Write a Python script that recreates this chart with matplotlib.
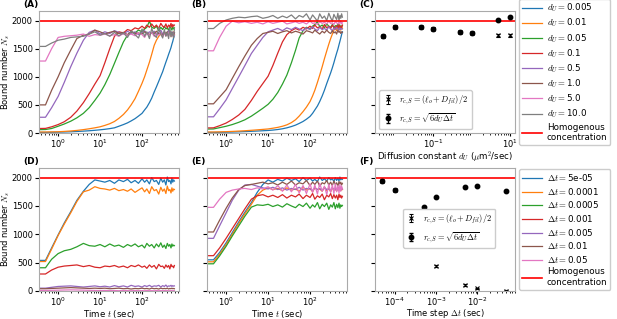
import matplotlib
matplotlib.use('Agg')
import matplotlib.pyplot as plt
import numpy as np

plt.rcParams['mathtext.fontset'] = 'cm'
plt.rcParams['font.size'] = 6.5

# time grid (sec) shared by all time series
t = [0.35, 0.5, 0.7, 1.0, 1.4, 2.0, 2.8, 4.0, 5.5, 7.5,
     10, 13, 17, 22, 28, 36, 45, 55, 68, 82,
     100, 115, 130, 150, 170, 195, 220, 250, 280, 310,
     340, 370, 400, 430, 460, 490, 515, 540, 565, 590]

dU = [0.005, 0.01, 0.05, 0.1, 0.5, 1.0, 5.0, 10.0]
dU_labels = ['0.005', '0.01', '0.05', '0.1', '0.5', '1.0', '5.0', '10.0']
dt = [5e-05, 1e-04, 5e-04, 1e-03, 5e-03, 1e-02, 5e-02]
dt_labels = ['5e-05', '0.0001', '0.0005', '0.001', '0.005', '0.01', '0.05']

N_homog = 2000

# (A) bound number vs time, r = (l_o + D_fil)/2
A_005 = [10,10,12,15,18,22,27,33,40,48, 57,66,78,92,120,150,180,215,255,300,
         350,410,460,540,620,730,820,920,1010,1090, 1180,1260,1330,1400,1460,1520,1580,1630,1690,1740]
A_01 = [18,18,20,22,28,36,46,60,75,92, 110,135,165,205,260,330,410,500,610,740,
        885,1000,1120,1260,1400,1560,1650,1720,1760,1740, 1790,1730,1780,1750,1800,1720,1770,1740,1800,1750]
A_05 = [60,62,80,120,160,210,270,350,450,580, 710,860,1040,1240,1430,1620,1740,1800,1780,1830,
        1800,1850,1880,1990,1880,1860,1900,1820,1880,1840, 1900,1850,1870,1820,1900,1860,1830,1890,1850,1870]
A_1 = [80,82,110,150,200,280,390,540,700,870, 1020,1250,1500,1720,1800,1780,1840,1820,1870,1850,
       1900,1860,1920,1880,1940,1880,1920,1860,1950,1900, 1880,1940,1870,1920,1890,1950,1880,1930,1900,1920]
A_5 = [280,280,450,650,900,1180,1420,1650,1790,1830, 1760,1800,1770,1820,1790,1760,1810,1770,1800,1750,
       1790,1820,1760,1800,1770,1810,1750,1790,1830,1760, 1800,1740,1790,1820,1770,1750,1800,1760,1790,1780]
A_10 = [500,500,760,1000,1250,1475,1680,1740,1760,1830, 1800,1760,1790,1810,1770,1790,1750,1800,1770,1780,
        1760,1800,1780,1750,1790,1770,1810,1760,1780,1740, 1790,1770,1800,1750,1780,1760,1790,1770,1750,1780]
A_50 = [1280,1280,1500,1700,1720,1730,1740,1760,1720,1750, 1740,1760,1730,1750,1720,1770,1740,1760,1730,1780,
        1750,1700,1770,1740,1790,1720,1760,1740,1780,1710, 1760,1750,1730,1790,1740,1760,1720,1770,1750,1740]
A_100 = [1540,1540,1600,1650,1670,1700,1710,1720,1760,1800, 1740,1770,1720,1790,1730,1780,1700,1820,1750,1690,
         1850,1720,1800,1680,1860,1740,1700,1880,1760,1690, 1840,1720,1790,1680,1870,1710,1800,1740,1690,1850]

# (B) bound number vs time, r = sqrt(6 dU dt)
B_005 = [10,10,12,14,17,21,25,30,35,40, 45,52,62,75,92,115,140,170,205,245,
         295,350,410,480,560,660,760,880,980,1070, 1160,1250,1340,1420,1490,1570,1630,1690,1750,1800]
B_01 = [18,18,20,24,28,34,40,48,56,64, 72,85,100,120,145,185,235,300,380,460,
        560,660,760,900,1030,1180,1320,1460,1580,1680, 1760,1830,1870,1820,1890,1840,1880,1830,1900,1860]
B_05 = [70,72,95,120,150,190,235,300,370,440, 510,600,720,870,1030,1250,1470,1690,1820,1880,
        1850,1900,1930,1980,1890,1920,1870,1940,1900,1880, 1930,1870,1910,1890,1940,1880,1920,1870,1900,1910]
B_1 = [90,92,130,177,240,320,420,580,740,880, 1010,1200,1420,1620,1750,1820,1860,1830,1880,1850,
       1900,1860,1920,1870,1890,1850,1930,1870,1900,1860, 1920,1880,1850,1910,1870,1930,1860,1900,1880,1920]
B_5 = [288,288,430,590,790,1000,1200,1415,1560,1700, 1800,1830,1860,1820,1870,1840,1880,1850,1820,1870,
       1840,1890,1850,1820,1880,1840,1860,1830,1890,1850, 1820,1870,1840,1880,1850,1830,1870,1840,1860,1850]
B_10 = [519,519,640,770,970,1180,1370,1560,1680,1770, 1790,1810,1770,1800,1820,1780,1810,1790,1760,1820,
        1800,1780,1830,1790,1760,1810,1780,1830,1790,1770, 1820,1780,1800,1760,1830,1790,1810,1770,1800,1790]
B_50 = [1462,1462,1700,1900,1990,1960,1980,1950,1970,1940, 1980,1950,1970,1990,1940,1960,1980,1950,1970,1940,
        1990,1950,1960,1930,1980,1950,1970,1940,1990,1950, 1960,1930,1980,1960,1940,1970,1950,1990,1940,1960]
B_100 = [1858,1858,1950,2010,2040,2060,2050,2070,2080,2040, 2060,2090,2040,2080,2050,2100,2030,2090,2060,2120,
         2010,2100,2050,1990,2120,2040,2080,2000,2130,2050, 1990,2110,2060,2020,2130,2000,2090,2040,2120,2060]

# (C) final bound number vs dU
C_ell = [1717, 1894, 1888, 1858, 1799, 1782, 1735, 1735]
C_ell_err = [20, 20, 20, 20, 20, 20, 22, 22]
C_sqrt = [1717, 1894, 1888, 1858, 1799, 1782, 2012, 2065]
C_sqrt_err = [15, 15, 15, 15, 15, 15, 15, 15]

# (D) bound number vs time for several dt, r = (l_o + D_fil)/2
D_1 = [540,540,760,990,1200,1400,1600,1760,1880,1960, 1940,1920,1950,1900,1960,1930,1970,1910,1950,1900,
       1980,1920,1960,1890,2000,1930,1950,1880,1990,1920, 1960,1870,2010,1930,1950,1890,1990,1920,1960,1940]
D_2 = [520,520,740,980,1180,1380,1580,1750,1780,1840, 1810,1800,1780,1810,1770,1790,1760,1800,1740,1780,
       1820,1750,1800,1720,1840,1770,1790,1710,1830,1760, 1800,1720,1850,1770,1790,1730,1820,1760,1800,1790]
D_3 = [410,410,560,660,710,735,780,840,800,790, 820,780,830,790,810,770,820,790,830,780,
       810,760,840,790,820,760,830,780,850,770, 810,750,840,790,820,760,830,790,810,800]
D_4 = [300,300,370,420,440,450,460,430,450,420, 410,440,430,450,420,440,410,450,430,460,
       420,440,400,460,420,450,390,470,430,440, 400,460,420,450,390,470,430,440,410,450]
D_5 = [50,50,65,80,85,90,80,70,80,90, 75,85,70,95,75,90,70,100,80,90,
       70,95,80,100,75,90,85,100,70,95, 80,105,75,90,85,100,80,95,85,90]
D_6 = [40,40,45,50,55,60,55,50,45,50, 45,50,40,45,50,40,45,35,45,40,
       50,40,45,35,50,40,45,35,50,40, 45,40,50,35,45,40,50,40,45,40]
D_7 = [10,10,12,15,18,20,18,15,12,10, 8,10,6,8,5,8,6,4,8,5,
       6,4,8,5,6,4,7,5,6,4, 7,5,6,4,5,6,4,5,6,5]

# (E) bound number vs time for several dt, r = sqrt(6 dU dt)
E_1 = [550,550,680,850,1030,1220,1390,1560,1740,1880, 1960,1920,1970,1940,1990,1950,1980,1930,2000,1950,
       1990,1940,1970,1930,2010,1950,1980,1940,2000,1960, 1980,1930,2000,1950,1990,1940,2010,1960,1980,1970]
E_2 = [515,515,650,820,1000,1190,1360,1530,1690,1780, 1820,1790,1810,1770,1820,1780,1800,1760,1830,1780,
       1810,1750,1820,1790,1800,1760,1830,1770,1810,1750, 1820,1780,1800,1760,1830,1780,1810,1770,1800,1790]
E_3 = [480,480,620,790,970,1150,1320,1480,1520,1510, 1530,1490,1520,1480,1540,1500,1470,1530,1490,1550,
       1460,1520,1480,1560,1450,1530,1490,1550,1440,1520, 1480,1560,1450,1530,1470,1550,1460,1520,1490,1510]
E_4 = [623,623,760,930,1100,1280,1450,1620,1680,1700, 1660,1690,1650,1700,1640,1690,1660,1710,1630,1690,
       1650,1720,1620,1680,1650,1710,1610,1690,1660,1720, 1630,1700,1640,1690,1610,1710,1650,1690,1640,1670]
E_5 = [929,929,1150,1380,1600,1780,1870,1880,1850,1820, 1800,1830,1790,1820,1780,1810,1790,1830,1780,1810,
       1800,1770,1820,1790,1810,1770,1830,1790,1800,1780, 1820,1790,1810,1770,1830,1790,1800,1780,1820,1800]
E_6 = [1041,1041,1250,1460,1640,1790,1860,1880,1900,1920, 1890,1910,1870,1920,1880,1940,1870,1910,1890,1950,
       1860,1920,1880,1940,1850,1910,1890,1950,1870,1920, 1860,1940,1880,1910,1850,1930,1890,1920,1870,1900]
E_7 = [1476,1476,1620,1740,1780,1800,1810,1790,1820,1800, 1840,1780,1860,1760,1870,1750,1880,1730,1860,1720,
       1890,1740,1870,1710,1900,1760,1850,1700,1880,1740, 1870,1720,1890,1750,1860,1730,1880,1760,1850,1800]

# (F) final bound number vs dt
F_ell = [1942, 1783, 800, 447, 106, 46, 5]
F_ell_err = [20, 20, 20, 20, 15, 12, 8]
F_sqrt = [1942, 1783, 1488, 1652, 1836, 1859, 1765]
F_sqrt_err = [15, 15, 15, 15, 15, 15, 15]

A = [A_005, A_01, A_05, A_1, A_5, A_10, A_50, A_100]
B = [B_005, B_01, B_05, B_1, B_5, B_10, B_50, B_100]
D = [D_1, D_2, D_3, D_4, D_5, D_6, D_7]
E = [E_1, E_2, E_3, E_4, E_5, E_6, E_7]

W, H = 617, 319
fig = plt.figure(figsize=(W/100, H/100), dpi=100)

def box(l, top, r, bot):
    return [l/W, 1-bot/H, (r-l)/W, (bot-top)/H]

axA = fig.add_axes(box(39, 11, 179, 133))
axB = fig.add_axes(box(207, 11, 347, 133))
axC = fig.add_axes(box(375, 11, 515, 133))
axD = fig.add_axes(box(39, 168, 179, 291))
axE = fig.add_axes(box(207, 168, 347, 291))
axF = fig.add_axes(box(375, 168, 515, 291))

ylim = (0, 2170)

for ax, series, labels, sym in [(axA, A, dU_labels, r'$d_U = $'), (axB, B, dU_labels, r'$d_U = $'),
                                (axD, D, dt_labels, r'$\Delta t = $'), (axE, E, dt_labels, r'$\Delta t = $')]:
    for s, lab in zip(series, labels):
        ax.plot(t, s, lw=0.9, label=sym + lab)
    ax.axhline(N_homog, color='red', lw=1.2, label='Homogenous\nconcentration')
    ax.set_xscale('log')
    ax.set_xlim(0.35, 760)
    ax.set_ylim(*ylim)
    ax.set_xticks([1, 10, 100])

for ax, x, ell, ell_err, sq, sq_err in [(axC, dU, C_ell, C_ell_err, C_sqrt, C_sqrt_err),
                                        (axF, dt, F_ell, F_ell_err, F_sqrt, F_sqrt_err)]:
    ax.axhline(N_homog, color='red', lw=1.2)
    ax.errorbar(x, ell, yerr=ell_err, fmt='x', color='k', ms=2.5, mew=0.8, elinewidth=0.7,
                capsize=1.5, label=r'$r_{c,S} = (\ell_o + D_{fil})/2$')
    ax.errorbar(x, sq, yerr=sq_err, fmt='o', color='k', ms=3.2, elinewidth=0.8,
                capsize=1.5, label=r'$r_{c,S} = \sqrt{6 d_U \Delta t}$')
    ax.set_xscale('log')
    ax.set_ylim(*ylim)

axC.set_xlim(0.0031, 13.5)
axC.set_xticks([0.1, 10])
axF.set_xlim(3.3e-5, 0.081)
axF.set_xticks([1e-4, 1e-3, 1e-2])

for ax in [axA, axB, axC, axD, axE, axF]:
    ax.set_yticks([0, 500, 1000, 1500, 2000])
    ax.tick_params(axis='y', labelsize=6, length=3, pad=1.5)
    ax.tick_params(axis='x', which='major', labelsize=6, length=2.5, pad=1)
    ax.tick_params(axis='x', which='minor', length=1.5)
    for sp in ax.spines.values():
        sp.set_color('#aaaaaa')
for ax in [axB, axC, axE, axF]:
    ax.tick_params(labelleft=False)

for ax in [axA, axD]:
    ax.set_ylabel(r'Bound number $N_s$', fontsize=6)
    ax.yaxis.set_label_coords(-0.195, 0.5)
for ax in [axD, axE]:
    ax.set_xlabel(r'Time $t$ (sec)', fontsize=6.2)
    ax.xaxis.set_label_coords(0.5, -0.14)
axF.set_xlabel(r'Time step $\Delta t$ (sec)', fontsize=6)
axF.xaxis.set_label_coords(0.5, -0.13)
axC.set_xlabel(r'Diffusion constant $d_U$ ($\mu$m$^2$/sec)', fontsize=6.2)
axC.xaxis.set_label_coords(0.5, -0.14)

for ax, lab in zip([axA, axB, axC, axD, axE, axF], ['(A)', '(B)', '(C)', '(D)', '(E)', '(F)']):
    ax.text(-0.115, 1.05, lab, transform=ax.transAxes, fontsize=6.5, fontweight='bold',
            ha='left', va='center')

# outer legends
axC.legend(*axA.get_legend_handles_labels(), loc='center left', bbox_to_anchor=(1.03, 0.5),
           fontsize=6.3, handlelength=2.2, labelspacing=0.3, borderpad=0.35,
           handletextpad=0.6, borderaxespad=0, framealpha=1)
axF.legend(*axD.get_legend_handles_labels(), loc='center left', bbox_to_anchor=(1.03, 0.5),
           fontsize=6.3, handlelength=2.2, labelspacing=0.3, borderpad=0.35,
           handletextpad=0.6, borderaxespad=0, framealpha=1)
# inner legends
axC.add_artist(axC.get_legend())
axF.add_artist(axF.get_legend())
axC.legend(loc='lower left', bbox_to_anchor=(0.03, 0.03), fontsize=6, handlelength=1.2,
           borderaxespad=0, framealpha=1)
axF.legend(loc='lower left', bbox_to_anchor=(0.2, 0.35), fontsize=6, handlelength=1.2,
           borderaxespad=0, framealpha=1)

fig.savefig('out.png', dpi=100)
